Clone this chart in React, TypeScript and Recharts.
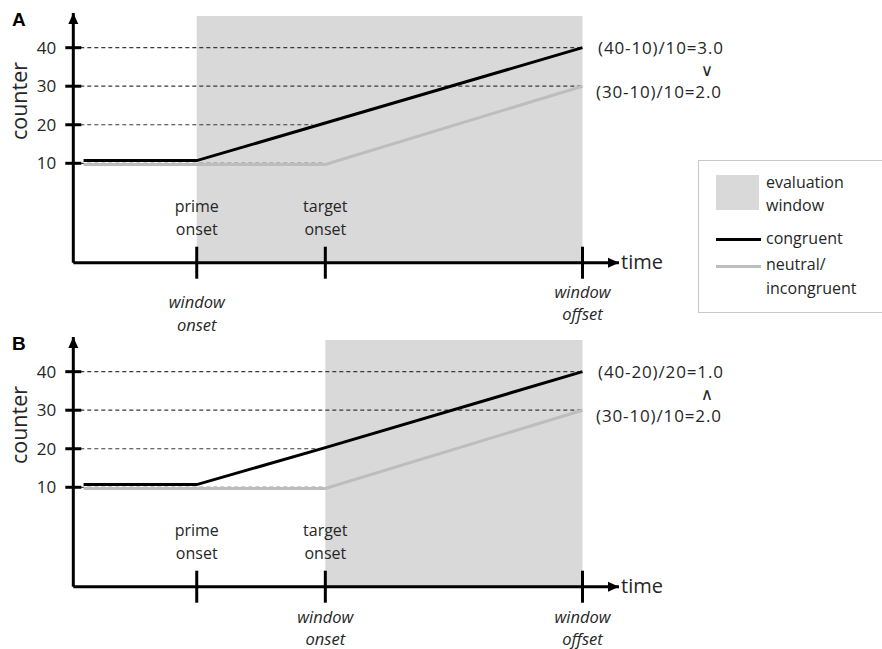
import React from "react";
import {
    LineChart,
    Line,
    XAxis,
    YAxis,
    ReferenceArea,
    ReferenceLine,
    ReferenceDot,
} from "recharts";

// time axis: prime onset = 1, target onset = 2, window offset = 4
const T_MIN = 0.04;
const T_MAX = 4.284;
const Y_MIN = -15.8;
const Y_MAX = 49;
const WINDOW_TOP = 48.2;

const TIME_TICKS = [1, 2, 4];
const COUNTER_TICKS = [10, 20, 30, 40];

const congruentTimesA = [0.12, 1, 4];
const congruentValuesA = [10.7, 10.7, 40];
const congruentTimesB = [0.12, 1, 2, 4];
const congruentValuesB = [10.7, 10.7, 20.3, 40];
const neutralTimes = [0.12, 2, 4];
const neutralValues = [9.7, 9.7, 30];

// where each dashed guide line stops (time)
const dashEndsA = [2, 1.9, 4, 4];
const dashEndsB = [2, 2, 4, 4];

const windowA = [1, 4];
const windowB = [2, 4];

const ABOVE_LABELS: Record<number, string[]> = {
    1: ["prime", "onset"],
    2: ["target", "onset"],
};
const BELOW_LABELS_A: Record<number, { lines: string[]; dy: number }> = {
    1: { lines: ["window", "onset"], dy: 45.6 },
    4: { lines: ["window", "offset"], dy: 35 },
};
const BELOW_LABELS_B: Record<number, { lines: string[]; dy: number }> = {
    2: { lines: ["window", "onset"], dy: 36 },
    4: { lines: ["window", "offset"], dy: 36 },
};

const ratioTextsA = ["(40-10)/10=3.0", "∨", "(30-10)/10=2.0"];
const ratioTextsB = ["(40-20)/20=1.0", "∧", "(30-10)/10=2.0"];

const FONT = "'Open Sans', 'Noto Sans', sans-serif";
const TEXT = "#262626";
const GRAY_WINDOW = "#d9d9d9";
const GRAY_LINE = "#bdbdbd";
const PANEL_H = 324;
const CHART_H = 349;

const zip = (ts: number[], vs: number[]) => ts.map((t, i) => ({ t, v: vs[i] }));

const TimeTick = (props: any) => {
    const { x, y, payload, below } = props;
    const above = ABOVE_LABELS[payload.value] || [];
    const under = below[payload.value];
    return (
        <g>
            <line x1={x} x2={x} y1={y - 16} y2={y + 16} stroke="#000" strokeWidth={3} />
            {above.map((s: string, i: number) => (
                <text key={"a" + i} x={x} y={y - 51 + i * 23} textAnchor="middle"
                    fontFamily={FONT} fontSize={16} fill={TEXT}>
                    {s}
                </text>
            ))}
            {under &&
                under.lines.map((s: string, i: number) => (
                    <text key={"b" + i} x={x} y={y + under.dy + i * 22.5} textAnchor="middle"
                        fontFamily={FONT} fontSize={16.5} fontStyle="italic" fill={TEXT}>
                        {s}
                    </text>
                ))}
        </g>
    );
};

const CounterTick = (props: any) => {
    const { x, y, payload } = props;
    return (
        <g>
            <line x1={x - 8} x2={x + 8} y1={y} y2={y} stroke="#000" strokeWidth={3} />
            <text x={x - 17} y={y + 6} textAnchor="end" fontFamily={FONT} fontSize={17} fill={TEXT}>
                {payload.value}
            </text>
        </g>
    );
};

const ArrowRight = (p: any) => (
    <path d={`M${p.cx},${p.cy} L${p.cx - 11},${p.cy - 5} L${p.cx - 11},${p.cy + 5} Z`} fill="#000" />
);
const ArrowUp = (p: any) => (
    <path d={`M${p.cx},${p.cy} L${p.cx - 5},${p.cy + 11} L${p.cx + 5},${p.cy + 11} Z`} fill="#000" />
);

interface PanelProps {
    letter: string;
    top: number;
    win: number[];
    congruent: { t: number; v: number }[];
    dashEnds: number[];
    below: Record<number, { lines: string[]; dy: number }>;
    ratios: string[];
}

function Panel({ letter, top, win, congruent, dashEnds, below, ratios }: PanelProps) {
    const neutral = zip(neutralTimes, neutralValues);
    return (
        <div style={{ position: "absolute", left: 0, top, width: 882, height: CHART_H }}>
            <LineChart
                width={882}
                height={CHART_H}
                margin={{ top: 13, right: 263, bottom: CHART_H - 263.7, left: 72.3 }}
            >
                <ReferenceArea x1={win[0]} x2={win[1]} y1={Y_MIN} y2={WINDOW_TOP}
                    fill={GRAY_WINDOW} fillOpacity={1} stroke="none" ifOverflow="visible" />
                {COUNTER_TICKS.map((v, i) => (
                    <ReferenceLine key={v} segment={[{ x: T_MIN, y: v }, { x: dashEnds[i], y: v }]}
                        stroke="#3a3a3a" strokeDasharray="4 3" strokeWidth={1.2} ifOverflow="visible" />
                ))}
                <XAxis type="number" dataKey="t" domain={[T_MIN, T_MAX]} ticks={TIME_TICKS} interval={0}
                    height={1} tickSize={0} tickMargin={0} tickLine={false} allowDataOverflow
                    axisLine={{ stroke: "#000", strokeWidth: 3 }}
                    tick={(p: any) => <TimeTick {...p} below={below} />} />
                <YAxis type="number" domain={[Y_MIN, Y_MAX]} ticks={COUNTER_TICKS} interval={0}
                    width={1} tickSize={0} tickMargin={0} tickLine={false} allowDataOverflow
                    axisLine={{ stroke: "#000", strokeWidth: 3 }}
                    tick={(p: any) => <CounterTick {...p} />} />
                <Line data={neutral} dataKey="v" type="linear" stroke={GRAY_LINE} strokeWidth={3}
                    dot={false} isAnimationActive={false} />
                <Line data={congruent} dataKey="v" type="linear" stroke="#000" strokeWidth={3}
                    dot={false} isAnimationActive={false} />
                <ReferenceDot x={T_MAX} y={Y_MIN} r={1} shape={ArrowRight} ifOverflow="visible" />
                <ReferenceDot x={T_MIN} y={Y_MAX} r={1} shape={ArrowUp} ifOverflow="visible" />
            </LineChart>
            <svg width={882} height={PANEL_H} style={{ position: "absolute", left: 0, top: 0, pointerEvents: "none" }}>
                <text x={12} y={26} fontFamily="'Liberation Sans', Arial, sans-serif" fontWeight="bold"
                    fontSize={19} fill="#000">
                    {letter}
                </text>
                <text x={26.5} y={101} transform="rotate(-90 26.5 101)" textAnchor="middle"
                    fontFamily={FONT} fontSize={21.5} fill={TEXT}>
                    counter
                </text>
                <text x={621} y={269} fontFamily={FONT} fontSize={20} fill={TEXT}>
                    time
                </text>
                <text x={598} y={53.5} fontFamily={FONT} fontSize={17} fill={TEXT}
                    textLength={125} lengthAdjust="spacing">
                    {ratios[0]}
                </text>
                <text x={707} y={76} textAnchor="middle" fontFamily="'DejaVu Sans', sans-serif"
                    fontSize={17} fill={TEXT}>
                    {ratios[1]}
                </text>
                <text x={596} y={97.5} fontFamily={FONT} fontSize={17} fill={TEXT}
                    textLength={125} lengthAdjust="spacing">
                    {ratios[2]}
                </text>
            </svg>
        </div>
    );
}

function LegendBox() {
    return (
        <div style={{
            position: "absolute", left: 698, top: 160, width: 200, height: 151,
            border: "1px solid #c8c8c8", background: "#fff",
        }}>
            <svg width={200} height={151}>
                <rect x={17} y={14} width={43} height={35} fill={GRAY_WINDOW} />
                <text x={67} y={27} fontFamily={FONT} fontSize={16} fill={TEXT}>evaluation</text>
                <text x={67} y={50} fontFamily={FONT} fontSize={16} fill={TEXT}>window</text>
                <line x1={17} x2={62} y1={78.5} y2={78.5} stroke="#000" strokeWidth={3} />
                <text x={67} y={83} fontFamily={FONT} fontSize={16} fill={TEXT}>congruent</text>
                <line x1={17} x2={62} y1={105.5} y2={105.5} stroke={GRAY_LINE} strokeWidth={3} />
                <text x={67} y={109} fontFamily={FONT} fontSize={16} fill={TEXT}>neutral/</text>
                <text x={67} y={133} fontFamily={FONT} fontSize={16} fill={TEXT}>incongruent</text>
            </svg>
        </div>
    );
}

export default function App() {
    return (
        <div style={{
            position: "absolute", left: 0, top: 0, width: 882, height: 649,
            overflow: "hidden", background: "#fff",
        }}>
            <Panel letter="A" top={0} win={windowA} congruent={zip(congruentTimesA, congruentValuesA)}
                dashEnds={dashEndsA} below={BELOW_LABELS_A} ratios={ratioTextsA} />
            <Panel letter="B" top={PANEL_H} win={windowB} congruent={zip(congruentTimesB, congruentValuesB)}
                dashEnds={dashEndsB} below={BELOW_LABELS_B} ratios={ratioTextsB} />
            <LegendBox />
        </div>
    );
}
